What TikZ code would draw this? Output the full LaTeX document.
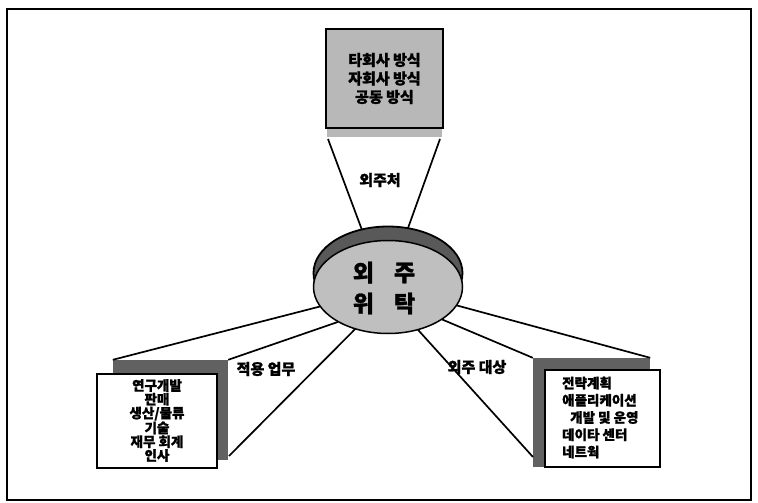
\documentclass[tikz,border=0pt]{standalone}
\usepackage{fontspec}
\newfontfamily\kr{Noto Sans CJK KR}[BoldFeatures={FakeBold=1.2}]
\usetikzlibrary{shapes.geometric}
\begin{document}
\begin{tikzpicture}[x=1pt,y=-1pt,
  fanline/.style={line width=1.7pt},
  lbl/.style={font=\kr\bfseries\fontsize{15}{15}\selectfont, inner sep=1pt},
  boxtext/.style={font=\kr\bfseries\fontsize{13.5}{13.8}\selectfont},
  shadowbox/.style={rectangle, fill=black!62, draw=none, inner sep=0pt},
  frontbox/.style={rectangle, draw, line width=2pt, fill=white, inner sep=0pt},
  disk/.style={ellipse, draw, inner sep=0pt, minimum width=149pt, minimum height=93pt},
]
\useasboundingbox (0,0) rectangle (758,503);
\draw[line width=2.5pt] (7,9) rectangle (751,500);

% top source box
\node[rectangle, fill=black!28, inner sep=0pt, minimum width=115pt, minimum height=12pt] (topsh) at (384.5,131) {};
\node[rectangle, draw, line width=2.8pt, fill=black!28, inner sep=0pt,
      minimum width=117pt, minimum height=99pt, align=center,
      font=\kr\bfseries\fontsize{15}{18.5}\selectfont] (topbox) at (384.5,78.5)
      {타회사 방식\\자회사 방식\\공동 방식};
\coordinate (t1) at (328,139);
\coordinate (t2) at (440,139);

% central disk (positions only, drawn later)
\path (388,273) node[disk, draw=none] (ellsh) {};
\path (388,287) node[disk, draw=none] (ell) {};

% fan lines
\draw[fanline] (t1) -- (ellsh.121.5);
\draw[fanline] (t2) -- (ellsh.66.6);

% left box
\node[shadowbox, minimum width=115pt, minimum height=100pt] (lsh) at (170.5,410) {};
\coordinate (l3) at (229,456);
\draw[fanline] (lsh.north west) -- (ell.196.7);
\draw[fanline] (lsh.north east) -- (ell.215);
\draw[fanline] (l3) -- (ell.232.5);
\node[frontbox, minimum width=120pt, minimum height=94pt, align=center, boxtext] (lbox) at (157,420.5)
  {연구개발\\판매\\생산/물류\\기술\\재무 회계\\인사};

% right box
\node[shadowbox, minimum width=117pt, minimum height=109pt] (rsh) at (591.5,412.5) {};
\coordinate (r3) at (533,457);
\draw[fanline] (rsh.north east) -- (ell.345);
\draw[fanline] (rsh.north west) -- (ell.329.5);
\draw[fanline] (r3) -- (ell.305);
\node[frontbox, minimum width=115pt, minimum height=97pt] (rbox) at (602.5,418.5) {};
\node[anchor=west, inner sep=0pt, align=left, font=\kr\bfseries\fontsize{13.5}{17.2}\selectfont] (rtext) at (562,417.5)
  {전략계획\\애플리케이션\\\hspace*{8pt}개발 및 운영\\데이타 센터\\네트웍};

% disk drawn on top
\node[disk, line width=1.8pt, fill=black!65] at (ellsh.center) {};
\node[disk, line width=1.5pt, fill=black!25] at (ell.center) {};
\node[font=\kr\bfseries\fontsize{23}{31}\selectfont, align=center, inner sep=0pt] (core) at (384,288)
  {외\hspace{20pt}주\\위\hspace{20pt}탁};

% labels
\node[lbl] (lblt) at (380,180) {외주처};
\node[lbl] (lbll) at (266,369) {적용 업무};
\node[lbl] (lblr) at (477,367) {외주 대상};
\end{tikzpicture}
\end{document}
